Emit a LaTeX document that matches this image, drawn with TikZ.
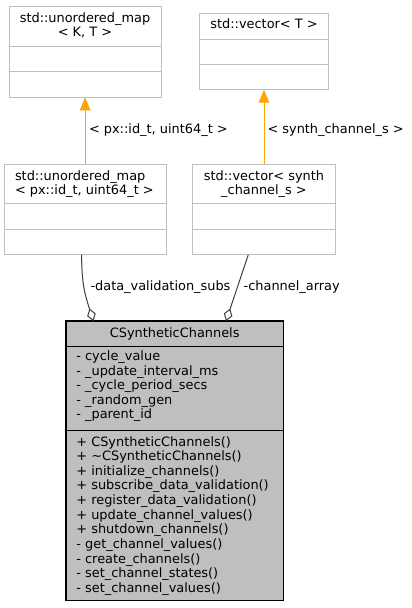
\documentclass[tikz,border=0pt]{standalone}
\usepackage{fontspec}
\setmainfont{DejaVu Sans}
\usetikzlibrary{arrows.meta,calc}
\definecolor{boxline}{HTML}{BFBFBF}
\definecolor{mainfill}{HTML}{BFBFBF}
\definecolor{edgegray}{HTML}{404040}
\definecolor{inhorange}{HTML}{FFA500}
\begin{document}
\begin{tikzpicture}[x=1pt,y=-1pt,
  tmplbox/.style={draw=boxline, line width=1pt, fill=white, inner sep=0pt, outer sep=0pt, anchor=north west},
  mainbox/.style={draw=black, line width=1.2pt, fill=mainfill, inner sep=0pt, outer sep=0pt, anchor=north west},
  divl/.style={draw=boxline, line width=1pt},
  divm/.style={draw=black, line width=1.2pt},
  txt/.style={inner sep=0pt, outer sep=0pt, font=\fontsize{12.9}{14.6}\selectfont},
  ltxt/.style={txt, anchor=base west},
  ctxt/.style={txt, anchor=base},
  inh/.style={draw=inhorange, line width=1pt, -{Triangle[length=13pt,width=10.5pt,fill=inhorange]}},
  agg/.style={draw=edgegray, line width=1pt, -{Diamond[open,length=13pt,width=9pt]}}
]
\useasboundingbox (0,0) rectangle (412,608);
\fill[white] (0,0) rectangle (412,608);

% top-left template box
\node[tmplbox, minimum width=152pt, minimum height=91.3pt] (A) at (9,6) {};
\draw[divl] (A.west |- 0,46.5) -- (A.east |- 0,46.5);
\draw[divl] (A.west |- 0,71.7) -- (A.east |- 0,71.7);
\node[ctxt] (A1) at (85,22.7) {std::unordered\_map};
\node[ctxt] (A2) at (85,36.7) {< K, T >};

% top-right template box
\node[tmplbox, minimum width=129.4pt, minimum height=76.2pt] (B) at (199.3,13.5) {};
\draw[divl] (B.west |- 0,39.3) -- (B.east |- 0,39.3);
\draw[divl] (B.west |- 0,64.3) -- (B.east |- 0,64.3);
\node[ctxt] (B1) at (264,28.3) {std::vector< T >};

% middle-left box
\node[tmplbox, minimum width=161.7pt, minimum height=90.7pt] (C) at (4.3,164) {};
\draw[divl] (C.west |- 0,203.7) -- (C.east |- 0,203.7);
\draw[divl] (C.west |- 0,229.3) -- (C.east |- 0,229.3);
\node[ltxt] (C1) at (15,180.7) {std::unordered\_map};
\node[ltxt] (C2) at (15,194.3) {< px::id\_t, uint64\_t >};

% middle-right box
\node[tmplbox, minimum width=142.6pt, minimum height=90.7pt] (D) at (192.7,164) {};
\draw[divl] (D.west |- 0,203.7) -- (D.east |- 0,203.7);
\draw[divl] (D.west |- 0,229.3) -- (D.east |- 0,229.3);
\node[ctxt] (D1) at (264,180.7) {std::vector< synth};
\node[ctxt] (D2) at (264,194.3) {\_channel\_s >};

% main class box
\node[mainbox, minimum width=217.3pt, minimum height=279.7pt] (M) at (66,321) {};
\draw[divm] (M.west |- 0,346.7) -- (M.east |- 0,346.7);
\draw[divm] (M.west |- 0,430.7) -- (M.east |- 0,430.7);
\node[ctxt] (MT) at (174.7,337.5) {CSyntheticChannels};

\node[ltxt] (a1) at (76.4,360.5) {- cycle\_value};
\node[ltxt] (a2) at (76.4,375.1) {- \_update\_interval\_ms};
\node[ltxt] (a3) at (76.4,389.7) {- \_cycle\_period\_secs};
\node[ltxt] (a4) at (76.4,404.3) {- \_random\_gen};
\node[ltxt] (a5) at (76.4,418.9) {- \_parent\_id};

\node[ltxt] (m1) at (76.4,446.0) {+ CSyntheticChannels()};
\node[ltxt] (m2) at (76.4,460.6) {+ \textasciitilde CSyntheticChannels()};
\node[ltxt] (m3) at (76.4,475.3) {+ initialize\_channels()};
\node[ltxt] (m4) at (76.4,489.9) {+ subscribe\_data\_validation()};
\node[ltxt] (m5) at (76.4,504.5) {+ register\_data\_validation()};
\node[ltxt] (m6) at (76.4,519.2) {+ update\_channel\_values()};
\node[ltxt] (m7) at (76.4,533.8) {+ shutdown\_channels()};
\node[ltxt] (m8) at (76.4,548.4) {- get\_channel\_values()};
\node[ltxt] (m9) at (76.4,563.0) {- create\_channels()};
\node[ltxt] (m10) at (76.4,577.7) {- set\_channel\_states()};
\node[ltxt] (m11) at (76.4,592.3) {- set\_channel\_values()};

% inheritance (template instantiation) arrows
\draw[inh] (C.north) -- (C.north |- A.south);
\node[ltxt] (L1) at (89,133) {< px::id\_t, uint64\_t >};
\draw[inh] (D.north) -- (D.north |- B.south);
\node[ltxt] (L2) at (267.5,133) {< synth\_channel\_s >};

% aggregation connectors
\draw[agg] ([xshift=-3.5pt]C.south) .. controls +(0,30) and +(-8.4,-26) .. ([xshift=-81.2pt]M.north);
\node[ltxt] (L3) at (90.5,290.5) {-data\_validation\_subs};
\draw[agg] ([xshift=-15.7pt]D.south) -- ([xshift=51.4pt]M.north);
\node[ltxt] (L4) at (243.7,290.5) {-channel\_array};
\end{tikzpicture}
\end{document}
